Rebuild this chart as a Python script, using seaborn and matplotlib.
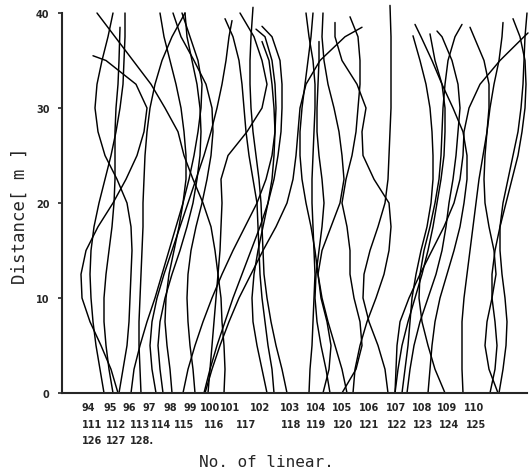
import numpy as np
import pandas as pd
import matplotlib
matplotlib.use("Agg")
import matplotlib.pyplot as plt
import seaborn as sns

nan = np.nan

# distance along the course (m), bottom to top
distance = [0, 2.5, 5, 7.5, 10, 12.5, 15, 17.5, 20, 22.5, 25, 27.5, 30, 32.5, 35, 37.5]

# lateral position of each course at those distances (drawing units)
line_94 = [104, 100, 96, 93, 91, 90, 91, 94, 99, 105, 111, 116, 120, 123, 124, 125]
line_95 = [113, 109, 106, 104, 104, 106, 109, 112, 114, 115, 115, 115, 116, 118, 119, nan]
line_96 = [118, 111, 101, 90, 82, 81, 86, 98, 113, 126, 137, 144, 147, 136, 106, nan]
line_97 = [119, 123, 127, 129, 130, 131, 132, 131, 127, 117, 105, 98, 95, 97, 102, 108]
line_98 = [131, 134, 140, 147, 155, 162, 169, 176, 183, 189, 194, 198, 201, 202, 198, 190]
line_99 = [141, 140, 139, 139, 140, 141, 142, 143, 143, 144, 145, 147, 150, 155, 162, 172]
line_100 = [156, 152, 150, 152, 157, 164, 172, 180, 188, 196, 204, 211, 217, 222, 226, 229]
line_101 = [163, 160, 158, 160, 165, 172, 180, 187, 193, 197, 200, 201, 200, 197, 192, 187]
line_102 = [172, 170, 167, 165, 166, 169, 174, 179, 183, 186, 186, 184, 181, 176, 170, 164]
line_103 = [195, 193, 190, 188, 187, 188, 191, 196, 202, 207, 211, 213, 212, 206, 194, 181]
line_104 = [224, 225, 224, 222, 221, 218, 215, 211, 203, 193, 184, 178, 165, 151, 133, 115]
line_105 = [208, 210, 212, 214, 216, 218, 220, 221, 222, 221, 228, 247, 262, 267, 262, 254]
line_106 = [274, 272, 268, 265, 262, 260, 259, 258, 257, 253, 249, 246, 244, 242, 239, 233]
line_107 = [287, 282, 276, 271, 267, 264, 263, 262, 261, 259, 256, 253, 251, 250, 250, 251]
line_108 = [204, 210, 217, 225, 233, 242, 251, 260, 268, 274, 278, 281, 282, 282, 280, 272]
line_109 = [183, 188, 195, 203, 212, 222, 233, 245, 257, 266, 272, 275, 276, 275, 272, 265]
line_110 = [267, 262, 257, 253, 252, 254, 258, 263, 268, 272, 274, 275, 274, 272, 269, nan]
line_111 = [309, 310, 312, 313, 314, 315, 314, 313, 312, 312, 313, 314, 315, 315, 313, 309]
line_112 = [323, 329, 331, 327, 321, 318, 322, 331, 340, 344, 342, 339, 334, 328, 324, 322]
line_113 = [205, 212, 220, 229, 239, 251, 263, 276, 287, 293, 296, 298, 300, 306, 320, 345]
line_114 = [353, 355, 360, 367, 376, 384, 389, 391, 389, 374, 363, 362, 366, 357, 342, 335]
line_115 = [342, 356, 362, 360, 354, 350, 350, 347, 342, 346, 352, 356, 358, 360, 360, 358]
line_116 = [388, 385, 378, 369, 363, 364, 370, 378, 385, 388, 389, 390, 391, 391, 391, 391]
line_117 = [330, 326, 321, 317, 315, 316, 319, 322, 324, 322, 319, 317, 317, 318, 319, nan]
line_118 = [347, 342, 335, 328, 322, 318, 315, 311, 306, 302, 300, 300, 302, 305, 308, 311]
line_119 = [402, 405, 408, 410, 412, 416, 421, 427, 431, 433, 433, 432, 430, 426, 420, nan]
line_120 = [428, 430, 432, 435, 440, 447, 454, 460, 464, 467, 467, 463, 453, 442, 432, 421]
line_121 = [395, 398, 402, 408, 415, 422, 428, 433, 437, 441, 444, 445, 445, 442, 435, nan]
line_122 = [407, 410, 414, 420, 428, 436, 442, 446, 449, 453, 456, 458, 460, 458, 452, 442]
line_123 = [445, 435, 428, 422, 419, 420, 424, 430, 435, 439, 441, 442, 443, 445, 448, 455]
line_124 = [463, 462, 462, 462, 464, 467, 470, 473, 476, 479, 483, 487, 489, 489, 484, 474]
line_125 = [498, 489, 485, 487, 492, 496, 494, 489, 485, 484, 485, 487, 490, 494, 499, 502]
line_126 = [490, 495, 497, 495, 492, 492, 495, 500, 506, 512, 518, 522, 525, 526, 525, 520]
line_127 = [395, 396, 397, 400, 409, 420, 432, 444, 454, 460, 463, 464, 469, 480, 500, 524]
line_128 = [499, 503, 506, 507, 505, 502, 500, 500, 503, 508, 513, 518, 521, 523, 524, 525]

courses = [line_94, line_95, line_96, line_97, line_98, line_99, line_100, line_101,
           line_102, line_103, line_104, line_105, line_106, line_107, line_108, line_109,
           line_110, line_111, line_112, line_113, line_114, line_115, line_116, line_117,
           line_118, line_119, line_120, line_121, line_122, line_123, line_124, line_125,
           line_126, line_127, line_128]

# upper end of each course (distance in m, lateral position)
top_distance = [40, 38.5, 35.5, 40, 40, 40, 39.2, 40, 40, 40, 40, 40, 39.4, 40.6, 38.6, 38.3,
                37, 40, 40, 38.5, 39, 39.6, 40.8, 37, 40, 37.6, 38.8, 37.8, 38.1, 38.8, 38.5,
                39, 39.4, 37.9, 40]
top_x = [125, 120, 93, 113, 182, 185, 232, 185, 160, 173, 97, 240, 225, 253, 262, 256,
         262, 306, 323, 362, 335, 350, 390, 319, 313, 413, 415, 430, 437, 462, 470,
         503, 513, 528, 527]

# numbering printed under the axis, three rows
row1_labels = ['94', '95', '96', '97', '98', '99', '100', '101', '102', '103', '104', '105',
               '106', '107', '108', '109', '110']
row1_x = [88, 110, 129, 149, 170, 190, 210, 230, 260, 290, 316, 342, 369, 396, 422, 447, 474]
row2_labels = ['111', '112', '113', '114', '115', '116', '117', '118', '119', '120', '121',
               '122', '123', '124', '125']
row2_x = [92, 116, 140, 161, 184, 214, 246, 291, 316, 343, 369, 397, 423, 449, 476]
row3_labels = ['126', '127', '128.']
row3_x = [92, 116, 142]

frames = []
for k, xs in enumerate(courses):
    part = pd.DataFrame({'course': k, 'distance': distance, 'x': xs}).dropna()
    end = pd.DataFrame({'course': [k], 'distance': [top_distance[k]], 'x': [top_x[k]]})
    frames.append(pd.concat([part, end]))
df = pd.concat(frames, ignore_index=True)

sns.set_style("ticks")
plt.rcParams['font.family'] = ['DejaVu Sans']

fig = plt.figure(figsize=(5.29, 4.77), dpi=100)
ax = fig.add_axes([62 / 529, 83 / 477, 465 / 529, 380 / 477])

sns.lineplot(data=df, x='x', y='distance', units='course', estimator=None, sort=False,
             color='black', linewidth=1.05, ax=ax, legend=False, clip_on=False,
             solid_joinstyle='round')

ax.set_xlim(62, 527)
ax.set_ylim(0, 40)
ax.set_yticks([0, 10, 20, 30, 40])
ax.set_yticklabels(['0', '10', '20', '30', '40'], fontsize=7, fontweight='bold')
ax.set_xticks([])
ax.tick_params(axis='y', length=3, width=1.2, direction='out', pad=6)

tr = ax.get_xaxis_transform()
for labels, xs, yy in [(row1_labels, row1_x, -0.037), (row2_labels, row2_x, -0.082),
                       (row3_labels, row3_x, -0.124)]:
    for t, xv in zip(labels, xs):
        ax.text(xv, yy, t, transform=tr, ha='center', va='center',
                fontsize=7, fontweight='bold')

for s in ['top', 'right']:
    ax.spines[s].set_visible(False)
ax.spines['left'].set_linewidth(1.5)
ax.spines['bottom'].set_linewidth(1.5)

ax.set_ylabel('Distance[ m ]', fontsize=12.5, family='DejaVu Sans Mono')
ax.yaxis.set_label_coords(-0.072, 0.47)
ax.set_xlabel('No. of linear.', fontsize=11.5, family='DejaVu Sans Mono')
ax.xaxis.set_label_coords(0.44, -0.16)

fig.savefig('out.png', dpi=100, facecolor='white')
